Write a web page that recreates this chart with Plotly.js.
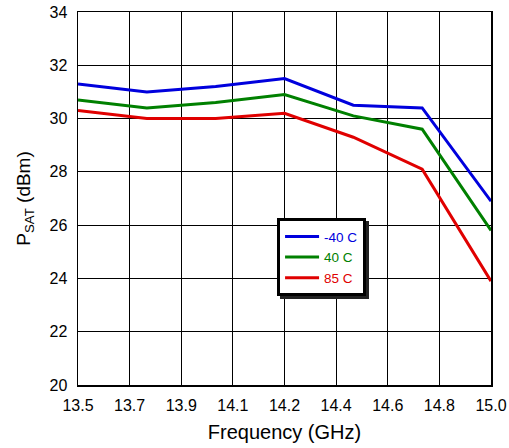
<!DOCTYPE html>
<html>
<head>
<meta charset="utf-8">
<script src="https://cdn.plot.ly/plotly-3.0.1.min.js"></script>
<style>html,body{margin:0;padding:0;background:#fff;}#chart{width:509px;height:448px;}</style>
</head>
<body>
<div id="chart"></div>
<script>
var freq = [13.5, 13.75, 14.0, 14.25, 14.5, 14.75, 15.0];
var psatM40 = [31.3, 31.0, 31.2, 31.5, 30.5, 30.4, 26.9];
var psat40 = [30.7, 30.4, 30.6, 30.9, 30.1, 29.6, 25.8];
var psat85 = [30.3, 30.0, 30.0, 30.2, 29.3, 28.1, 23.9];
var seriesNames = ['-40 C', '40 C', '85 C'];
var xTickLabels = ['13.5', '13.7', '13.9', '14.1', '14.2', '14.4', '14.6', '14.8', '15.0'];
var yTickLabels = ['20', '22', '24', '26', '28', '30', '32', '34'];

var colors = ['#0000dd', '#008000', '#e00000'];
var xTickVals = xTickLabels.map(function (_, i) { return 13.5 + i * 1.5 / (xTickLabels.length - 1); });
var yTickVals = yTickLabels.map(Number);

var series = [psatM40, psat40, psat85];
var traces = series.map(function (ys, i) {
  return {
    x: freq, y: ys, type: 'scatter', mode: 'lines',
    name: '<span style="color:' + colors[i] + '">' + seriesNames[i] + '</span>',
    line: {color: colors[i], width: 3},
    cliponaxis: true
  };
});

var FONT = 'Liberation Sans, Arial, sans-serif';
var layout = {
  width: 509, height: 448,
  margin: {l: 78, r: 18, t: 12, b: 63},
  paper_bgcolor: '#fff', plot_bgcolor: '#fff',
  font: {family: FONT, color: '#000', size: 15},
  showlegend: true,
  legend: {
    x: 0.482, y: 0.447, xanchor: 'left', yanchor: 'top',
    bgcolor: '#fff', bordercolor: '#000', borderwidth: 3,
    font: {size: 13.5, family: FONT},
    tracegroupgap: 0, itemwidth: 34
  },
  xaxis: {
    range: [13.5, 15.0], tickmode: 'array', tickvals: xTickVals, ticktext: xTickLabels,
    showgrid: true, gridcolor: '#000', gridwidth: 1,
    showline: true, linecolor: '#000', linewidth: 1.5, mirror: true,
    zeroline: false, ticks: '', ticklen: 0, ticklabelstandoff: 5,
    tickfont: {size: 16},
    title: {text: 'Frequency (GHz)', font: {size: 20}, standoff: 12}
  },
  yaxis: {
    range: [20, 34], tickmode: 'array', tickvals: yTickVals, ticktext: yTickLabels,
    showgrid: true, gridcolor: '#000', gridwidth: 1,
    showline: true, linecolor: '#000', linewidth: 1.5, mirror: true,
    zeroline: false, ticks: '', ticklen: 0, ticklabelstandoff: 6,
    tickfont: {size: 16},
    title: {text: 'P<sub>SAT</sub> (dBm)', font: {size: 19}, standoff: 14}
  }
};

function addLegendShadow(gd) {
  var bg = gd.querySelector('.legend rect.bg');
  if (!bg) return;
  var shadow = bg.cloneNode(false);
  shadow.setAttribute('class', 'legend-shadow');
  shadow.style.fill = '#222';
  shadow.style.stroke = '#222';
  shadow.style.strokeWidth = '3px';
  var t = bg.getAttribute('transform') || '';
  shadow.setAttribute('transform', t + ' translate(2.5,2.5)');
  bg.parentNode.insertBefore(shadow, bg);
}

Plotly.newPlot('chart', traces, layout, {displayModeBar: false, staticPlot: true}).then(addLegendShadow);
</script>
</body>
</html>
